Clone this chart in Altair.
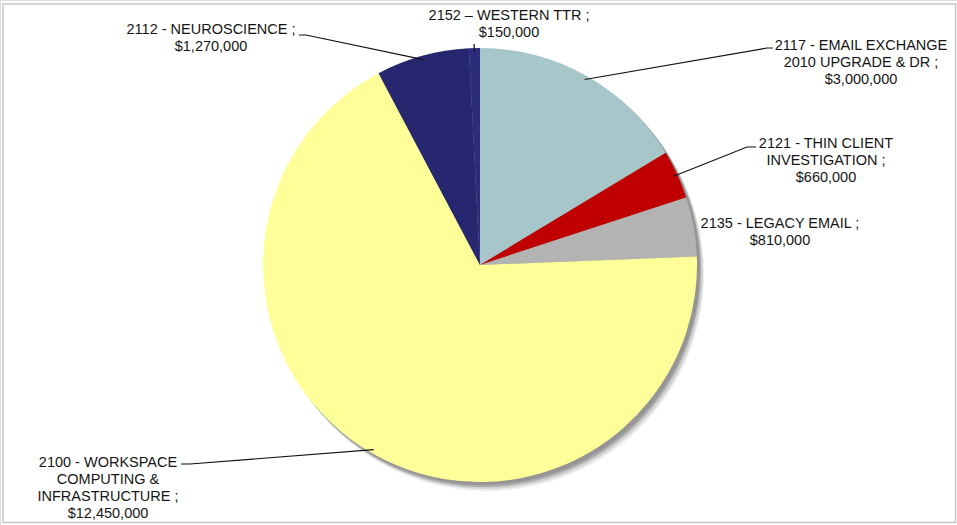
import altair as alt
import pandas as pd
import numpy as np

# ---- data ----
codes = ["2117", "2121", "2135", "2100", "2112", "2152"]
label_lines = [
    ["2117 - EMAIL EXCHANGE", "2010 UPGRADE & DR ;", "$3,000,000"],
    ["2121 - THIN CLIENT", "INVESTIGATION ;", "$660,000"],
    ["2135 - LEGACY EMAIL ;", "$810,000"],
    ["2100 - WORKSPACE", "COMPUTING & ", "INFRASTRUCTURE ;", "$12,450,000"],
    ["2112 - NEUROSCIENCE ;", "$1,270,000"],
    ["2152 \u2013 WESTERN TTR ;", "$150,000"],
]
values = [3000000, 660000, 810000, 12450000, 1270000, 150000]
colors = ["#a6c6c9", "#c00000", "#b3b3b3", "#ffff99", "#26276f", "#2b2c7a"]

# ---- layout (pixels) ----
W, H = 957, 525
CX, CY, R = 480, 265, 217
LEADER_R = 213
FONT = "Liberation Sans, Arial, sans-serif"
FS = 14.5
LH = 17
# label block: centre x, top y of first line
label_pos = {
    "2117": (861, 39),
    "2121": (826, 137),
    "2135": (780, 217),
    "2100": (108, 456),
    "2112": (211, 23),
    "2152": (509, 9),
}
# leader start and elbow point on the label side (None = no leader)
leader_pts = {
    "2117": [(773, 48), (767, 48)],
    "2121": [(756, 147), (747, 147)],
    "2135": None,
    "2100": [(181, 464), (190, 464)],
    "2112": [(299, 35), (306, 35)],
    "2152": [(474, 44), (474, 44)],
}

df = pd.DataFrame({"code": codes, "value": values, "idx": range(len(codes))})

# mid angles of each slice (clockwise from 12 o'clock) for leader ends
total = float(sum(values))
cum = np.cumsum([0] + values)
mid = [(cum[i] + values[i] / 2) / total * 2 * np.pi for i in range(len(values))]

lrows = []
for i, c in enumerate(codes):
    pts = leader_pts[c]
    if pts is None:
        continue
    ex = CX + LEADER_R * np.sin(mid[i])
    ey = CY - LEADER_R * np.cos(mid[i])
    for k, (px, py) in enumerate(pts + [(ex, ey)]):
        lrows.append({"code": c, "o": k, "px": float(px), "py": float(py)})
ldf = pd.DataFrame(lrows)

tdf = pd.DataFrame({
    "code": codes,
    "text": ["\n".join(l) for l in label_lines],
    "lx": [label_pos[c][0] for c in codes],
    "ly": [label_pos[c][1] for c in codes],
})

dummy = pd.DataFrame({"a": [0]})

frame = alt.Chart(dummy).mark_rect(filled=False, stroke="#c6c6c6", strokeWidth=1.5).encode(
    x=alt.value(3), x2=alt.value(955.5), y=alt.value(4), y2=alt.value(522.5)
)

def shadow(dx, dy, col):
    return alt.Chart(dummy).mark_arc(
        theta=0, theta2=2 * np.pi, outerRadius=R, color=col
    ).encode(x=alt.value(CX + dx), y=alt.value(CY + dy))

shadows = (shadow(7, 9, "#eeeeee") + shadow(6, 7, "#d2d2d2")
           + shadow(4, 5, "#ababab") + shadow(3, 3, "#959595"))

pie = alt.Chart(df).mark_arc(outerRadius=R).encode(
    theta=alt.Theta("value:Q", stack=True),
    color=alt.Color("code:N", scale=alt.Scale(domain=codes, range=colors), legend=None),
    order=alt.Order("idx:Q"),
    x=alt.value(CX),
    y=alt.value(CY),
)

leaders = alt.Chart(ldf).mark_line(color="#111111", strokeWidth=1.2).encode(
    x=alt.X("px:Q", scale=None),
    y=alt.Y("py:Q", scale=None),
    detail="code:N",
    order="o:Q",
)

labels = alt.Chart(tdf).mark_text(
    font=FONT, fontSize=FS, lineHeight=LH, lineBreak="\n",
    align="center", baseline="top", color="#151515",
).encode(
    x=alt.X("lx:Q", scale=None),
    y=alt.Y("ly:Q", scale=None),
    text="text:N",
)

chart = alt.layer(frame, shadows, pie, leaders, labels).properties(
    width=W, height=H, autosize=alt.AutoSizeParams(type="none"), padding=0
).configure_view(stroke=None).configure(background="white")

chart.save("out.html", embed_options={"renderer": "svg", "actions": False})
